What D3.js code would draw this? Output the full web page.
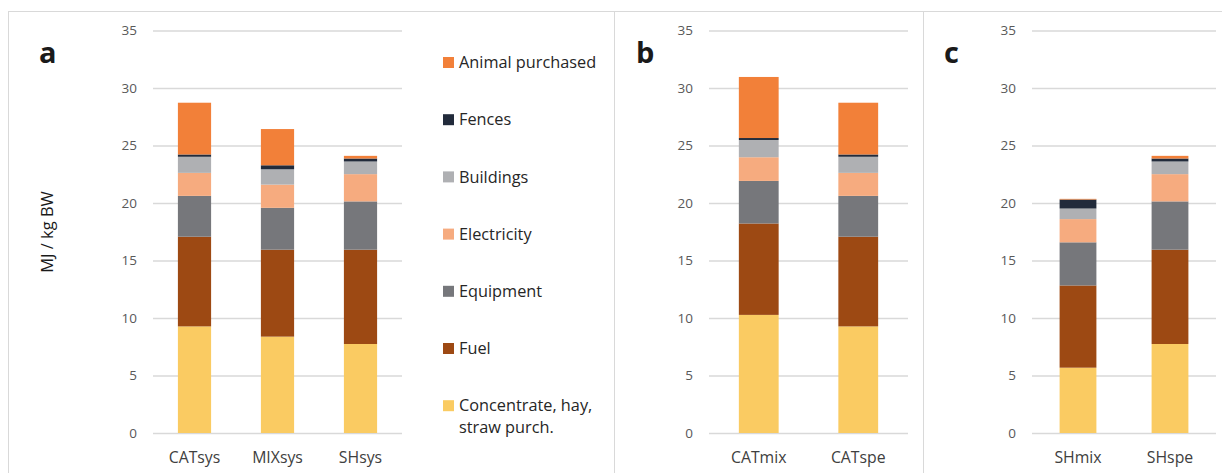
<!DOCTYPE html>
<html>
<head>
<meta charset="utf-8">
<script src="https://cdn.jsdelivr.net/npm/d3@7"></script>
<style>
  body { margin: 0; background: #fff; }
  text { font-family: "Open Sans", sans-serif; }
</style>
</head>
<body>
<div id="chart"></div>
<script>
const categories = ["CATsys", "MIXsys", "SHsys", "CATmix", "CATspe", "SHmix", "SHspe"];
const seriesNames = ["Concentrate, hay, straw purch.", "Fuel", "Equipment", "Electricity", "Buildings", "Fences", "Animal purchased"];
const concentrate = [9.27, 8.38, 7.74, 10.27, 9.27, 5.68, 7.74];
const fuel        = [7.80, 7.56, 8.20, 7.95, 7.80, 7.15, 8.20];
const equipment   = [3.55, 3.64, 4.20, 3.70, 3.55, 3.75, 4.20];
const electricity = [2.00, 2.02, 2.37, 2.06, 2.00, 2.02, 2.37];
const buildings   = [1.40, 1.33, 1.10, 1.50, 1.40, 0.92, 1.10];
const fences      = [0.20, 0.35, 0.26, 0.17, 0.20, 0.78, 0.26];
const animal      = [4.50, 3.15, 0.23, 5.31, 4.50, 0.06, 0.23];
const yTicks = [0, 5, 10, 15, 20, 25, 30, 35];
const panelLetters = ["a", "b", "c"];
const panelCats = [["CATsys", "MIXsys", "SHsys"], ["CATmix", "CATspe"], ["SHmix", "SHspe"]];
const yLabel = "MJ / kg BW";

window.onload = function () {
    const w = 1222;
    const h = 473;
    const colors = ["#FACB62", "#9D4913", "#76777B", "#F6AB7F", "#AFB0B3", "#222B3B", "#F28039"];
    const cols = [concentrate, fuel, equipment, electricity, buildings, fences, animal];

    const rows = categories.map((c, i) => {
        const r = { cat: c };
        seriesNames.forEach((s, j) => r[s] = cols[j][i]);
        return r;
    });
    const stacked = d3.stack().keys(seriesNames)(rows);

    const y = d3.scaleLinear().domain([0, 35]).range([433, 30.5]);

    const svg = d3.select("#chart")
        .append("svg")
        .attr("width", w)
        .attr("height", h);

    // panel frames
    const frames = [[8, 614], [614, 923], [923, 1240]];
    frames.forEach(f => {
        svg.append("rect")
            .attr("x", f[0] + 0.5).attr("y", 11.5)
            .attr("width", f[1] - f[0]).attr("height", 500)
            .attr("fill", "none")
            .attr("stroke", "#d9d9d9")
            .attr("stroke-width", 1);
    });

    const panels = [
        { x0: 153, x1: 402, letterX: 39 },
        { x0: 709, x1: 908, letterX: 636 },
        { x0: 1032, x1: 1216, letterX: 944 }
    ];

    panels.forEach((p, pi) => {
        const cats = panelCats[pi];
        const x = d3.scaleBand().domain(cats).range([p.x0, p.x1])
            .paddingInner(0.6).paddingOuter(0.3);

        const g = svg.append("g");

        // y axis with gridlines
        const ya = g.append("g")
            .attr("transform", `translate(${p.x0},0)`)
            .call(d3.axisLeft(y).tickValues(yTicks).tickSize(-(p.x1 - p.x0)).tickPadding(16));
        ya.select(".domain").remove();
        ya.selectAll(".tick line").attr("stroke", "#d9d9d9").attr("stroke-width", 1.3);
        ya.selectAll(".tick text")
            .attr("fill", "#595959")
            .attr("font-size", "13.5px")
            .style("font-family", "'Open Sans', sans-serif");

        // stacked bars
        stacked.forEach((layer, li) => {
            g.append("g")
                .selectAll("rect")
                .data(layer.filter(d => cats.includes(d.data.cat)))
                .enter()
                .append("rect")
                .attr("x", d => x(d.data.cat))
                .attr("y", d => y(d[1]))
                .attr("width", x.bandwidth())
                .attr("height", d => y(d[0]) - y(d[1]))
                .attr("fill", colors[li]);
        });

        // x axis labels
        const xa = g.append("g")
            .attr("transform", `translate(0,433)`)
            .call(d3.axisBottom(x).tickSize(0).tickPadding(19));
        xa.select(".domain").remove();
        xa.selectAll(".tick text")
            .attr("fill", "#404040")
            .attr("font-size", "15.8px")
            .style("font-family", "'Open Sans', sans-serif");

        // panel letter
        svg.append("text")
            .attr("x", p.letterX)
            .attr("y", 63)
            .attr("font-size", "29px")
            .attr("font-weight", "bold")
            .attr("fill", "#1a1a1a")
            .text(panelLetters[pi]);
    });

    // y label
    svg.append("text")
        .attr("transform", "translate(53,232) rotate(-90)")
        .attr("text-anchor", "middle")
        .attr("font-size", "16.5px")
        .attr("fill", "#1a1a1a")
        .text(yLabel);

    // legend
    const legendOrder = seriesNames.slice().reverse();
    const legend = svg.append("g");
    legendOrder.forEach((s, i) => {
        const cy = 62.5 + i * 57.2;
        const ci = seriesNames.indexOf(s);
        legend.append("rect")
            .attr("x", 443).attr("y", cy - 5.5)
            .attr("width", 11).attr("height", 11)
            .attr("fill", colors[ci]);
        const t = legend.append("text")
            .attr("x", 459)
            .attr("y", cy)
            .attr("dy", "0.35em")
            .attr("font-size", "16.3px")
            .attr("fill", "#262626");
        if (s.startsWith("Concentrate")) {
            t.text("Concentrate, hay,");
            legend.append("text")
                .attr("x", 459)
                .attr("y", cy + 22)
                .attr("dy", "0.35em")
                .attr("font-size", "16.3px")
                .attr("fill", "#262626")
                .text("straw purch.");
        } else {
            t.text(s);
        }
    });
};
</script>
</body>
</html>
